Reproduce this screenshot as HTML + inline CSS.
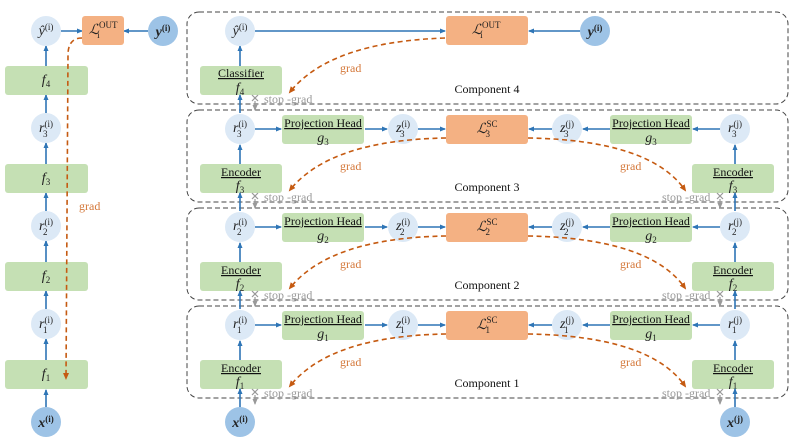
<!DOCTYPE html>
<html><head><meta charset="utf-8"><style>
html,body{margin:0;padding:0;background:#fff}
svg{display:block}
text{font-family:"Liberation Serif",serif;}
.m{font-style:italic;font-size:14px;fill:#222}
.sm{font-size:9px;font-style:normal}
.lbl{font-size:12px;fill:#111}
.grad{font-size:12px;fill:#d4783a}
.sg{font-size:12px;fill:#999}
</style></head><body>
<svg width="793" height="446" viewBox="0 0 793 446" xmlns="http://www.w3.org/2000/svg">
<defs>
<marker id="a" markerWidth="6" markerHeight="6" refX="5" refY="3" orient="auto" markerUnits="userSpaceOnUse"><path d="M0,0.5 L6,3 L0,5.5 Z" fill="#2e75b6"/></marker>
<marker id="o" markerWidth="7" markerHeight="7" refX="5" refY="3.5" orient="auto" markerUnits="userSpaceOnUse"><path d="M0,0.5 L7,3.5 L0,6.5 Z" fill="#c55a11"/></marker>
<marker id="g" markerWidth="6" markerHeight="6" refX="5" refY="3" orient="auto" markerUnits="userSpaceOnUse"><path d="M0,0.5 L6,3 L0,5.5 Z" fill="#999"/></marker>
</defs>
<g fill="none" stroke="#444" stroke-width="1" stroke-dasharray="5,3">
<rect x="187" y="12" width="601" height="92" rx="12"/>
<rect x="187" y="110" width="601" height="92" rx="12"/>
<rect x="187" y="208" width="601" height="92" rx="12"/>
<rect x="187" y="306" width="601" height="92" rx="12"/>
</g>
<g class="lbl" text-anchor="middle">
<text x="487" y="93">Component 4</text>
<text x="487" y="191">Component 3</text>
<text x="487" y="289">Component 2</text>
<text x="487" y="387">Component 1</text>
</g>

<g stroke="#2e75b6" stroke-width="1.6" fill="none" marker-end="url(#a)">
<line x1="46" y1="407" x2="46" y2="390"/>
<line x1="46" y1="360" x2="46" y2="339"/>
<line x1="46" y1="309" x2="46" y2="291"/>
<line x1="46" y1="262" x2="46" y2="241"/>
<line x1="46" y1="211" x2="46" y2="193"/>
<line x1="46" y1="164" x2="46" y2="143"/>
<line x1="46" y1="113" x2="46" y2="95"/>
<line x1="46" y1="66" x2="46" y2="46"/>
<line x1="61" y1="31" x2="82" y2="31"/>
<line x1="148" y1="31" x2="124" y2="31"/>
</g>
<g fill="#c5e0b4">
<rect x="5" y="66" width="83" height="29" rx="3"/>
<rect x="5" y="164" width="83" height="29" rx="3"/>
<rect x="5" y="262" width="83" height="29" rx="3"/>
<rect x="5" y="360" width="83" height="29" rx="3"/>
</g>
<rect x="82" y="16" width="42" height="29" rx="3" fill="#f4b183"/>
<g fill="#dce9f6">
<circle cx="46" cy="31" r="15"/><circle cx="46" cy="128" r="15"/><circle cx="46" cy="226" r="15"/><circle cx="46" cy="324" r="15"/>
</g>
<g fill="#9dc3e6"><circle cx="163" cy="31" r="15"/><circle cx="46" cy="422" r="15"/></g>
<g class="m" text-anchor="middle">
<text x="46" y="84">f<tspan class="sm" dy="3">4</tspan></text>
<text x="46" y="182">f<tspan class="sm" dy="3">3</tspan></text>
<text x="46" y="280">f<tspan class="sm" dy="3">2</tspan></text>
<text x="46" y="378">f<tspan class="sm" dy="3">1</tspan></text>
<text x="46" y="35">ŷ<tspan class="sm" dy="-5">(i)</tspan></text>
<text x="46" y="132">r<tspan class="sm" dy="-5">(i)</tspan><tspan class="sm" dx="-10" dy="10">3</tspan></text>
<text x="46" y="230">r<tspan class="sm" dy="-5">(i)</tspan><tspan class="sm" dx="-10" dy="10">2</tspan></text>
<text x="46" y="328">r<tspan class="sm" dy="-5">(i)</tspan><tspan class="sm" dx="-10" dy="10">1</tspan></text>
<text x="163" y="36" font-weight="bold">y<tspan class="sm" dy="-5">(i)</tspan></text>
<text x="46" y="427" font-weight="bold">x<tspan class="sm" dy="-5">(i)</tspan></text>
<text x="103" y="34">ℒ<tspan class="sm" dy="-6">OUT</tspan><tspan class="sm" dx="-20" dy="10">i</tspan></text>
</g>
<path d="M82,38 Q68,38 68,55 L66,378" fill="none" stroke="#c55a11" stroke-width="1.6" stroke-dasharray="5,3.5" marker-end="url(#o)"/>
<text class="grad" x="79" y="210">grad</text>

<g stroke="#2e75b6" stroke-width="1.6" fill="none" marker-end="url(#a)">
<line x1="240" y1="66" x2="240" y2="46"/>
<line x1="255" y1="31" x2="445" y2="31"/>
<line x1="580" y1="31" x2="529" y2="31"/>
</g>
<rect x="200" y="66" width="82" height="29" rx="3" fill="#c5e0b4"/>
<rect x="446" y="16" width="82" height="29" rx="3" fill="#f4b183"/>
<circle cx="240" cy="31" r="15" fill="#dce9f6"/>
<circle cx="595" cy="31" r="15" fill="#9dc3e6"/>
<text class="lbl" x="241" y="77" text-anchor="middle" text-decoration="underline">Classifier</text>
<g class="m" text-anchor="middle">
<text x="240" y="92">f<tspan class="sm" dy="3">4</tspan></text>
<text x="240" y="35">ŷ<tspan class="sm" dy="-5">(i)</tspan></text>
<text x="595" y="36" font-weight="bold">y<tspan class="sm" dy="-5">(i)</tspan></text>
<text x="486" y="34">ℒ<tspan class="sm" dy="-6">OUT</tspan><tspan class="sm" dx="-20" dy="10">i</tspan></text>
</g>
<path d="M445,38 Q330,42 290,92" fill="none" stroke="#c55a11" stroke-width="1.6" stroke-dasharray="5,3.5" marker-end="url(#o)"/>
<text class="grad" x="340" y="72">grad</text>

<g id="c3">
<g stroke="#2e75b6" stroke-width="1.6" fill="none" marker-end="url(#a)">
<line x1="240" y1="164" x2="240" y2="145"/>
<line x1="255" y1="129" x2="281" y2="129"/>
<line x1="365" y1="129" x2="387" y2="129"/>
<line x1="418" y1="129" x2="445" y2="129"/>
<line x1="552" y1="129" x2="529" y2="129"/>
<line x1="610" y1="129" x2="583" y2="129"/>
<line x1="720" y1="129" x2="693" y2="129"/>
<line x1="735" y1="164" x2="735" y2="145"/>
</g>
<g fill="#c5e0b4">
<rect x="200" y="164" width="82" height="29" rx="3"/>
<rect x="282" y="115" width="82" height="29" rx="3"/>
<rect x="610" y="115" width="82" height="29" rx="3"/>
<rect x="692" y="164" width="82" height="29" rx="3"/>
</g>
<rect x="446" y="115" width="82" height="29" rx="3" fill="#f4b183"/>
<g fill="#dce9f6"><circle cx="240" cy="129" r="15"/><circle cx="403" cy="129" r="15"/><circle cx="567" cy="129" r="15"/><circle cx="735" cy="129" r="15"/></g>
<g class="lbl" text-anchor="middle" text-decoration="underline">
<text x="241" y="176">Encoder</text><text x="323" y="127">Projection Head</text>
<text x="651" y="127">Projection Head</text><text x="733" y="176">Encoder</text>
</g>
<path d="M446,138 Q330,140 290,190" fill="none" stroke="#c55a11" stroke-width="1.6" stroke-dasharray="5,3.5" marker-end="url(#o)"/>
<path d="M528,138 Q650,140 685,190" fill="none" stroke="#c55a11" stroke-width="1.6" stroke-dasharray="5,3.5" marker-end="url(#o)"/>
<text class="grad" x="340" y="170">grad</text><text class="grad" x="620" y="170">grad</text>
</g>
<g class="m" text-anchor="middle">
<text x="240" y="190">f<tspan class="sm" dy="3">3</tspan></text><text x="323" y="142">g<tspan class="sm" dy="3">3</tspan></text>
<text x="651" y="142">g<tspan class="sm" dy="3">3</tspan></text><text x="733" y="190">f<tspan class="sm" dy="3">3</tspan></text>
<text x="487" y="133">ℒ<tspan class="sm" dy="-6">SC</tspan><tspan class="sm" dx="-12" dy="10">3</tspan></text>
<text x="240" y="132">r<tspan class="sm" dy="-5">(i)</tspan><tspan class="sm" dx="-10" dy="10">3</tspan></text>
<text x="403" y="132">z<tspan class="sm" dy="-5">(i)</tspan><tspan class="sm" dx="-10" dy="10">3</tspan></text>
<text x="567" y="132">z<tspan class="sm" dy="-5">(j)</tspan><tspan class="sm" dx="-10" dy="10">3</tspan></text>
<text x="735" y="132">r<tspan class="sm" dy="-5">(j)</tspan><tspan class="sm" dx="-10" dy="10">3</tspan></text>
</g>
<use href="#c3" y="98"/>
<use href="#c3" y="196"/>
<g class="m" text-anchor="middle">
<text x="240" y="288">f<tspan class="sm" dy="3">2</tspan></text><text x="323" y="240">g<tspan class="sm" dy="3">2</tspan></text>
<text x="651" y="240">g<tspan class="sm" dy="3">2</tspan></text><text x="733" y="288">f<tspan class="sm" dy="3">2</tspan></text>
<text x="487" y="231">ℒ<tspan class="sm" dy="-6">SC</tspan><tspan class="sm" dx="-12" dy="10">2</tspan></text>
<text x="240" y="230">r<tspan class="sm" dy="-5">(i)</tspan><tspan class="sm" dx="-10" dy="10">2</tspan></text>
<text x="403" y="230">z<tspan class="sm" dy="-5">(i)</tspan><tspan class="sm" dx="-10" dy="10">2</tspan></text>
<text x="567" y="230">z<tspan class="sm" dy="-5">(j)</tspan><tspan class="sm" dx="-10" dy="10">2</tspan></text>
<text x="735" y="230">r<tspan class="sm" dy="-5">(j)</tspan><tspan class="sm" dx="-10" dy="10">2</tspan></text>
<text x="240" y="386">f<tspan class="sm" dy="3">1</tspan></text><text x="323" y="338">g<tspan class="sm" dy="3">1</tspan></text>
<text x="651" y="338">g<tspan class="sm" dy="3">1</tspan></text><text x="733" y="386">f<tspan class="sm" dy="3">1</tspan></text>
<text x="487" y="329">ℒ<tspan class="sm" dy="-6">SC</tspan><tspan class="sm" dx="-12" dy="10">1</tspan></text>
<text x="240" y="328">r<tspan class="sm" dy="-5">(i)</tspan><tspan class="sm" dx="-10" dy="10">1</tspan></text>
<text x="403" y="328">z<tspan class="sm" dy="-5">(i)</tspan><tspan class="sm" dx="-10" dy="10">1</tspan></text>
<text x="567" y="328">z<tspan class="sm" dy="-5">(j)</tspan><tspan class="sm" dx="-10" dy="10">1</tspan></text>
<text x="735" y="328">r<tspan class="sm" dy="-5">(j)</tspan><tspan class="sm" dx="-10" dy="10">1</tspan></text>
</g>

<g stroke="#2e75b6" stroke-width="1.6" fill="none" marker-end="url(#a)">
<line x1="240" y1="113" x2="240" y2="95"/>
<line x1="240" y1="211" x2="240" y2="193"/>
<line x1="240" y1="309" x2="240" y2="291"/>
<line x1="240" y1="407" x2="240" y2="389"/>
<line x1="735" y1="211" x2="735" y2="193"/>
<line x1="735" y1="309" x2="735" y2="291"/>
<line x1="735" y1="407" x2="735" y2="389"/>
</g>
<g fill="#9dc3e6"><circle cx="240" cy="422" r="15"/><circle cx="735" cy="422" r="15"/></g>
<g class="m" text-anchor="middle" font-weight="bold">
<text x="240" y="427">x<tspan class="sm" dy="-5">(i)</tspan></text>
<text x="735" y="427">x<tspan class="sm" dy="-5">(j)</tspan></text>
</g>

<g id="sgL">
<g stroke="#999" stroke-width="1.2" fill="none">
<line x1="252" y1="95" x2="258" y2="101"/><line x1="258" y1="95" x2="252" y2="101"/>
<line x1="255" y1="101" x2="255" y2="110" marker-end="url(#g)"/>
</g>
<text class="sg" x="264" y="103">stop -grad</text>
</g>
<use href="#sgL" y="98"/><use href="#sgL" y="196"/><use href="#sgL" y="294"/>
<g id="sgR">
<g stroke="#999" stroke-width="1.2" fill="none">
<line x1="717" y1="193" x2="723" y2="199"/><line x1="723" y1="193" x2="717" y2="199"/>
<line x1="720" y1="199" x2="720" y2="208" marker-end="url(#g)"/>
</g>
<text class="sg" x="662" y="201">stop -grad</text>
</g>
<use href="#sgR" y="98"/><use href="#sgR" y="196"/>
</svg>
</body></html>
